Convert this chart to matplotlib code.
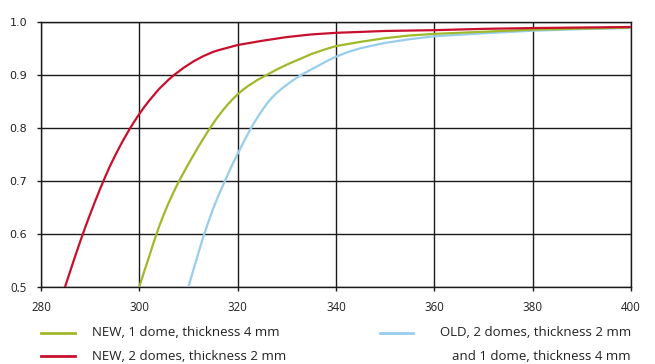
import matplotlib.pyplot as plt
from matplotlib.lines import Line2D

red_x = [284.9, 286, 287, 288, 289, 290, 291, 292, 293, 294, 295, 296, 297, 298, 299,
         300, 301, 302, 303, 304, 305, 306, 307, 308, 309, 310, 311, 312, 313, 314,
         315, 316, 318, 320, 322.5, 325, 330, 335, 340, 350, 360, 370, 380, 390, 400]
red_y = [0.5, 0.531, 0.559, 0.586, 0.612, 0.637, 0.661, 0.684, 0.706, 0.727, 0.746,
         0.764, 0.781, 0.797, 0.812, 0.826, 0.839, 0.851, 0.862, 0.873, 0.882, 0.891,
         0.899, 0.906, 0.913, 0.919, 0.925, 0.93, 0.935, 0.939, 0.943, 0.946, 0.951,
         0.956, 0.96, 0.964, 0.971, 0.976, 0.979, 0.9825, 0.984, 0.9865, 0.988, 0.989, 0.99]

green_x = [300, 301, 302, 303, 304, 305, 306, 307, 308, 309, 310, 311, 312, 313, 314,
           315, 316, 317, 318, 319, 320, 321, 322, 323, 324, 325, 326, 328, 330, 332.5,
           335, 337.5, 340, 345, 350, 355, 360, 370, 380, 390, 400]
green_y = [0.5, 0.529, 0.557, 0.586, 0.613, 0.637, 0.659, 0.679, 0.698, 0.715, 0.732,
           0.748, 0.764, 0.779, 0.794, 0.808, 0.821, 0.833, 0.844, 0.854, 0.863, 0.871,
           0.878, 0.884, 0.89, 0.895, 0.9, 0.91, 0.919, 0.929, 0.939, 0.947, 0.954, 0.962,
           0.969, 0.974, 0.977, 0.981, 0.985, 0.987, 0.989]

blue_x = [310, 311, 312, 313, 314, 315, 316, 317, 318, 319, 320, 321, 322, 323, 324,
          325, 326, 327, 328, 329, 330, 331, 332, 333, 334, 335, 336, 338, 340, 342.5,
          345, 347.5, 350, 355, 360, 370, 380, 390, 400]
blue_y = [0.5, 0.532, 0.563, 0.594, 0.621, 0.647, 0.67, 0.691, 0.712, 0.732, 0.751,
          0.769, 0.787, 0.804, 0.819, 0.833, 0.846, 0.857, 0.866, 0.874, 0.881, 0.888,
          0.894, 0.9, 0.905, 0.91, 0.915, 0.925, 0.934, 0.943, 0.95, 0.955, 0.96, 0.967,
          0.9725, 0.978, 0.983, 0.986, 0.988]

x_ticks = [280, 300, 320, 340, 360, 380, 400]
y_ticks = [0.5, 0.6, 0.7, 0.8, 0.9, 1.0]

GREEN = '#9fb92b'
RED = '#c8102e'
BLUE = '#98cdee'
GRID = '#1a1a1a'

fig = plt.figure(figsize=(6.55, 3.64), dpi=100)
ax = fig.add_axes([0.0626, 0.2124, 0.9008, 0.728])

ax.plot(blue_x, blue_y, color=BLUE, lw=1.6, zorder=3, solid_joinstyle='round')
ax.plot(green_x, green_y, color=GREEN, lw=1.6, zorder=4, solid_joinstyle='round')
ax.plot(red_x, red_y, color=RED, lw=1.6, zorder=5, solid_joinstyle='round')

ax.set_xlim(280, 400)
ax.set_ylim(0.5, 1.0)
ax.set_xticks(x_ticks)
ax.set_yticks(y_ticks)
ax.set_xticklabels([str(v) for v in x_ticks], family='Open Sans', fontsize=8.3, color='#222222')
ax.set_yticklabels([f'{v:.1f}' for v in y_ticks], family='DejaVu Sans', fontsize=8, color='#222222')
ax.get_yticklabels()[0].set_family('Open Sans')
ax.get_yticklabels()[0].set_fontsize(8.3)
ax.tick_params(axis='both', length=3, width=1, color=GRID)
ax.tick_params(axis='x', pad=7)
ax.tick_params(axis='y', pad=7)

ax.grid(True, color=GRID, lw=1, zorder=1)
ax.set_axisbelow(True)
for s in ax.spines.values():
    s.set_color(GRID)
    s.set_linewidth(1)
    s.set_zorder(2)

# legend, drawn by hand to match the two column layout
y1 = 1 - 333 / 364
y2 = 1 - 356 / 364
fig.add_artist(Line2D([41 / 655, 75 / 655], [y1, y1], color=GREEN, lw=2))
fig.add_artist(Line2D([41 / 655, 75 / 655], [y2, y2], color=RED, lw=2))
fig.add_artist(Line2D([380 / 655, 413 / 655], [y1, y1], color=BLUE, lw=2))
tkw = dict(family='Open Sans', fontsize=9.5, color='#222222', va='center')
fig.text(92 / 655, y1, 'NEW, 1 dome, thickness 4 mm', **tkw)
fig.text(92 / 655, y2, 'NEW, 2 domes, thickness 2 mm', **tkw)
fig.text(631 / 655, y1, 'OLD, 2 domes, thickness 2 mm', ha='right', **tkw)
fig.text(631 / 655, y2, 'and 1 dome, thickness 4 mm', ha='right', **tkw)

fig.savefig('out.png', dpi=100)
